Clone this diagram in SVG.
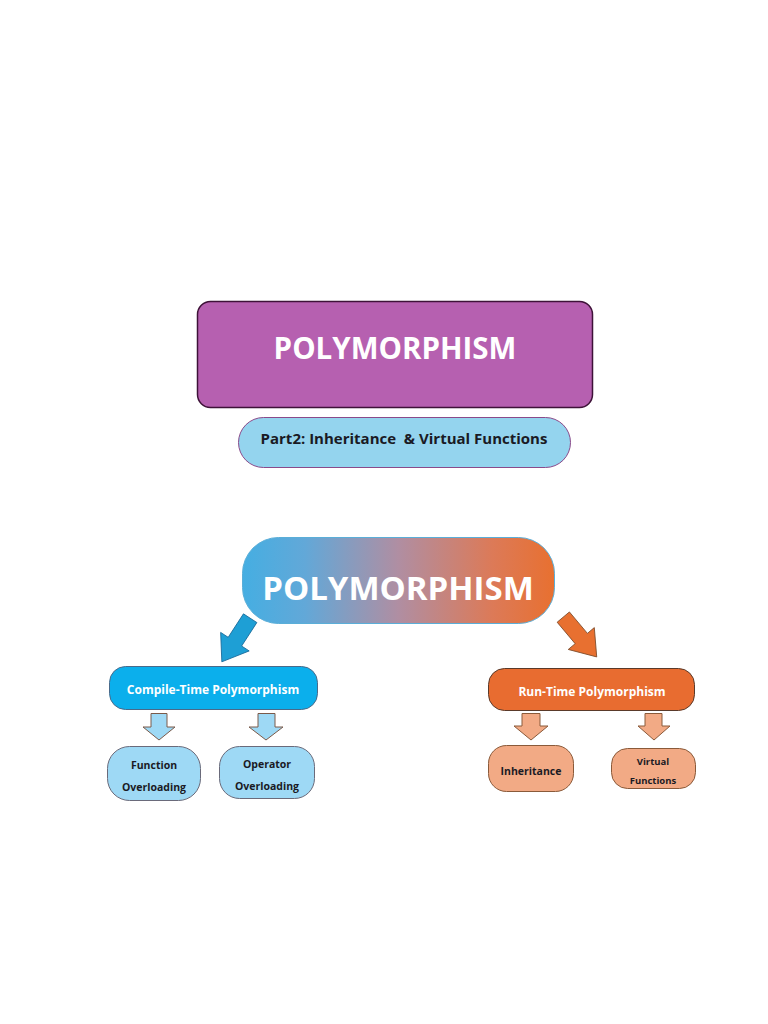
<svg xmlns="http://www.w3.org/2000/svg" width="768" height="1024" viewBox="0 0 768 1024">
<style>
text{font-family:"Open Sans","Liberation Sans",sans-serif;font-weight:bold;text-anchor:middle;white-space:pre}
.w{fill:#ffffff}
.k{fill:#1a1a24}
.sb{fill:#9ED9F5;stroke:#7a5a4a;stroke-width:1}
.so{fill:#F2AA85;stroke:#8a5a3a;stroke-width:1}
</style>
<defs>
<linearGradient id="g" x1="0" y1="0" x2="1" y2="0">
<stop offset="0" stop-color="#45AEE2"/>
<stop offset="0.2" stop-color="#62A8D8"/>
<stop offset="0.5" stop-color="#B08EA2"/>
<stop offset="0.8" stop-color="#DC7A58"/>
<stop offset="1" stop-color="#E87030"/>
</linearGradient>
<path id="big" d="M-8,-26 L8,-26 L8,2 L17,2 L0,26 L-17,2 L-8,2 Z"/>
</defs>
<rect width="768" height="1024" fill="#ffffff"/>
<g id="title">
<rect x="197.5" y="301.5" width="395" height="106" rx="13" fill="#B660B0" stroke="#3e1238" stroke-width="1.5"/>
<text class="w" x="395" y="359" font-size="29.5">POLYMORPHISM</text>
</g>
<g id="subtitle">
<rect x="238.5" y="417.5" width="332" height="50" rx="25" fill="#94D4EE" stroke="#8a4a8a" stroke-width="1"/>
<text class="k" x="404" y="444" font-size="15" xml:space="preserve">Part2: Inheritance  &amp; Virtual Functions</text>
</g>
<g id="poly">
<rect x="242.5" y="537.5" width="312" height="86" rx="36" fill="url(#g)" stroke="#5aaed8" stroke-width="1"/>
<text class="w" x="398" y="600" font-size="33">POLYMORPHISM</text>
</g>
<g id="compile">
<rect x="109.5" y="666.5" width="208" height="43" rx="16" fill="#0BAFEC" stroke="#4a6a8a" stroke-width="1"/>
<text class="w" x="213" y="694" font-size="12">Compile-Time Polymorphism</text>
</g>
<g id="funcover">
<rect x="107.5" y="746.5" width="93" height="54" rx="22" class="sb" style="stroke:#6a6a7a"/>
<text class="k" x="154" y="769" font-size="10.5">Function</text>
<text class="k" x="154" y="791" font-size="10.5">Overloading</text>
</g>
<g id="opover">
<rect x="219.5" y="746.5" width="95" height="52" rx="20" class="sb" style="stroke:#6a6a7a"/>
<text class="k" x="267" y="768" font-size="10.5">Operator</text>
<text class="k" x="267" y="790" font-size="10.5">Overloading</text>
</g>
<g id="runtime">
<rect x="488.5" y="668.5" width="206" height="42" rx="16" fill="#E86C30" stroke="#5a3a2a" stroke-width="1"/>
<text class="w" x="592" y="696" font-size="12">Run-Time Polymorphism</text>
</g>
<g id="inherit">
<rect x="488.5" y="745.5" width="85" height="46" rx="18" class="so"/>
<text class="k" x="531" y="775" font-size="10.5">Inheritance</text>
</g>
<g id="virtual">
<rect x="611.5" y="748.5" width="84" height="40" rx="16" class="so"/>
<text class="k" x="653" y="765" font-size="9.5">Virtual</text>
<text class="k" x="653" y="784" font-size="9.5">Functions</text>
</g>
<g id="connectors">
<use href="#big" transform="translate(236,640) rotate(33)" fill="#1E9FD5" stroke="#1a6a9a" stroke-width="0.8"/>
<use href="#big" transform="translate(580,637) rotate(-40)" fill="#E87030" stroke="#7a4a2a" stroke-width="0.8"/>
<path class="sb" d="M151,713.5 L167,713.5 L167,727 L175,727 L159,740 L143,727 L151,727 Z"/>
<path class="sb" d="M258,713.5 L275,713.5 L275,727 L283,727 L266,740 L249,727 L258,727 Z"/>
<path class="so" d="M522,713.5 L540,713.5 L540,726 L548,726 L531,740 L514,726 L522,726 Z"/>
<path class="so" d="M645,713.5 L662,713.5 L662,726 L670,726 L654,740 L638,726 L645,726 Z"/>
</g>
</svg>
